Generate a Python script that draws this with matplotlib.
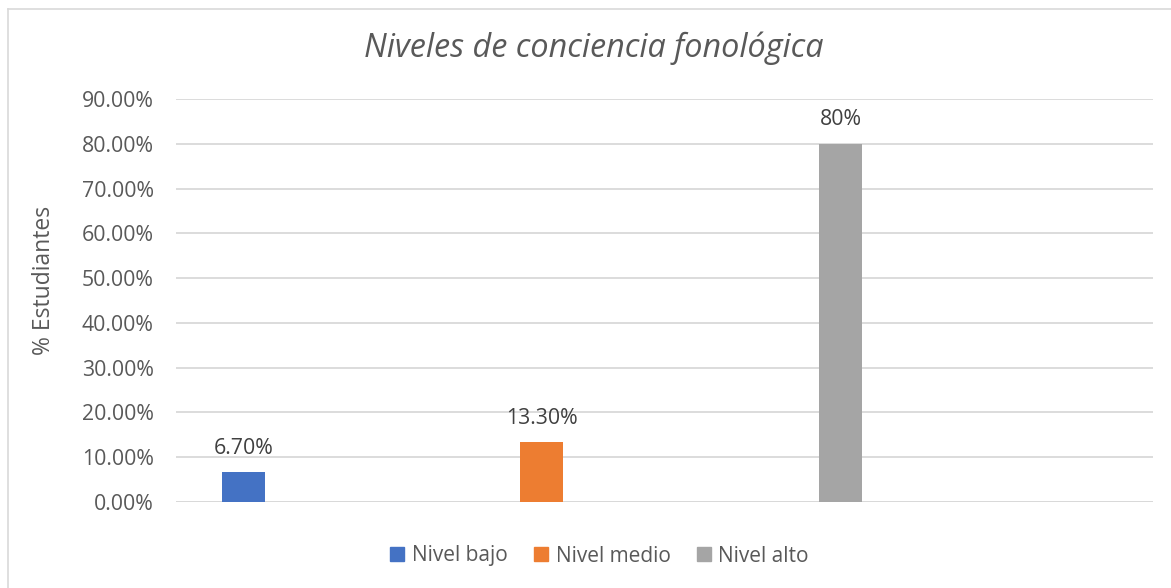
import matplotlib
matplotlib.use('Agg')
import matplotlib.pyplot as plt
import numpy as np
from matplotlib.lines import Line2D

matplotlib.rcParams['font.family'] = ['Open Sans', 'DejaVu Sans']

# data
series = ['Nivel bajo', 'Nivel medio', 'Nivel alto']
values = [6.7, 13.3, 80.0]
labels = ['6.70%', '13.30%', '80%']
colors = ['#4472C4', '#ED7D31', '#A5A5A5']
yticks = [0, 10, 20, 30, 40, 50, 60, 70, 80, 90]
ytick_labels = ['%.2f%%' % v for v in yticks]

txt_col = '#595959'

fig = plt.figure(figsize=(11.71, 5.88), dpi=100)
W, H = 1171., 588.
# plot area in pixels: x 176..1153, y 99..502
ax = fig.add_axes([176 / W, 1 - 502 / H, (1153 - 176) / W, (502 - 99) / H])

xpos = np.arange(len(series))
bw = 43 / 298.5
for i, (s, v, c) in enumerate(zip(series, values, colors)):
    ax.bar(xpos[i], v, width=bw, color=c, label=s, zorder=3)
    ax.text(xpos[i], v + 3.0, labels[i], ha='center', va='bottom',
            fontsize=15.3, color='#404040')

ax.set_xlim(-0.226, 3.047)
ax.set_ylim(0, 90)
ax.set_yticks(yticks)
ax.set_yticklabels(ytick_labels, fontsize=15.3, color=txt_col)
ax.set_xticks([])
ax.tick_params(axis='y', length=0, pad=16)
ax.grid(axis='y', color='#D9D9D9', linewidth=1.3, zorder=0)
for sp in ax.spines.values():
    sp.set_visible(False)
ax.axhline(0, color='#D9D9D9', linewidth=1.3, zorder=1)

fig.text(44 / W, 1 - 280 / H, '% Estudiantes', rotation=90, ha='center',
         va='center', fontsize=16.5, color=txt_col)
fig.text(594 / W, 1 - 48 / H, 'Niveles de conciencia fonológica', ha='center',
         va='center', fontsize=23.3, style='italic', color=txt_col)

handles = [Line2D([], [], marker='s', linestyle='none', markersize=9.5,
                  markerfacecolor=c, markeredgecolor=c) for c in colors]
leg = fig.legend(handles, series, loc='center', bbox_to_anchor=(598 / W, 1 - 556 / H),
                 ncol=3, frameon=False, fontsize=15, handletextpad=0.2,
                 columnspacing=1.1, handlelength=1.0)
for t in leg.get_texts():
    t.set_color(txt_col)

# outer chart border (left and top visible)
fig.add_artist(Line2D([8 / W, 8 / W], [0, 1 - 9 / H], color='#D9D9D9', linewidth=1.2))
fig.add_artist(Line2D([8 / W, 1], [1 - 9 / H, 1 - 9 / H], color='#D9D9D9', linewidth=1.2))

plt.savefig('out.png', dpi=100)
